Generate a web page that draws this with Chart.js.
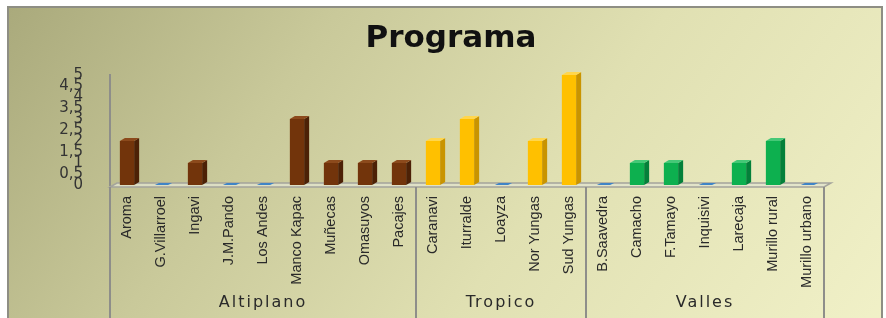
<!DOCTYPE html>
<html>
<head>
<meta charset="utf-8">
<script src="https://cdn.jsdelivr.net/npm/chart.js@4.4.1/dist/chart.umd.min.js"></script>
<style>
  html, body { margin: 0; padding: 0; background: #fff; width: 886px; height: 318px; overflow: hidden; }
  #marco {
    position: absolute; left: 7px; top: 6px; width: 872px; height: 330px;
    border: 2px solid #8e8e84;
    background: linear-gradient(125deg, #aaaa7c 0%, #c9c99a 30%, #e0e0b2 60%, #f1f1c8 100%);
  }
  #grafico { position: absolute; left: 0; top: 0; }
</style>
</head>
<body>
<div id="marco"></div>
<canvas id="grafico" width="886" height="318"></canvas>
<script>
// datos del grafico
const titulo = 'Programa'
const categorias = ['Aroma', 'G.Villarroel', 'Ingavi', 'J.M.Pando', 'Los Andes', 'Manco Kapac', 'Muñecas', 'Omasuyos', 'Pacajes',
  'Caranavi', 'Iturralde', 'Loayza', 'Nor Yungas', 'Sud Yungas',
  'B.Saavedra', 'Camacho', 'F.Tamayo', 'Inquisivi', 'Larecaja', 'Murillo rural', 'Murillo urbano']
const valores = [2, 0, 1, 0, 0, 3, 1, 1, 1,
  2, 3, 0, 2, 5,
  0, 1, 1, 0, 1, 2, 0]
const grupos = ['Altiplano', 'Tropico', 'Valles']
const tamGrupos = [9, 5, 7]
const yTicks = ['0', '0,5', '1', '1,5', '2', '2,5', '3', '3,5', '4', '4,5', '5']

// colores: frente, lado, tapa
const coloresGrupo = [
  ['#72340b', '#4c2106', '#8c4a1c'],
  ['#ffc000', '#c99400', '#ffd64d'],
  ['#0db04f', '#04803a', '#45c877']
]
const colorCero = '#3f84c6'

// grupo de cada barra
const grupoDe = []
tamGrupos.forEach((n, g) => { for (let k = 0; k < n; k++) grupoDe.push(g) })
const coloresBarra = grupoDe.map(g => coloresGrupo[g][0])

const dx = 5, dy = 3

function poligono(ctx, pts, fill) {
  ctx.beginPath()
  ctx.moveTo(pts[0][0], pts[0][1])
  for (let i = 1; i < pts.length; i++) ctx.lineTo(pts[i][0], pts[i][1])
  ctx.closePath()
  ctx.fillStyle = fill
  ctx.fill()
}

// caras 3D, suelo, separadores, nombres de grupo y titulo
const caras3d = {
  id: 'caras3d',
  beforeDatasetsDraw(chart) {
    const ctx = chart.ctx
    const { left, right, bottom } = chart.chartArea
    ctx.save()
    poligono(ctx, [[left, bottom + 2], [left + dx + 2, bottom - 2], [right + dx + 2, bottom - 2], [right, bottom + 2]], 'rgba(225,228,205,0.8)')
    ctx.strokeStyle = '#a4a49c'
    ctx.lineWidth = 1.5
    ctx.stroke()
    ctx.restore()
  },
  afterDatasetsDraw(chart) {
    const ctx = chart.ctx
    const meta = chart.getDatasetMeta(0)
    ctx.save()
    meta.data.forEach((bar, i) => {
      const { x, y, base, width } = bar.getProps(['x', 'y', 'base', 'width'], true)
      const l = x - width / 2, r = x + width / 2
      if (valores[i] === 0) {
        poligono(ctx, [[l + 1, base], [l + dx, base - dy + 1], [r + dx - 1, base - dy + 1], [r, base]], colorCero)
        return
      }
      const c = coloresGrupo[grupoDe[i]]
      poligono(ctx, [[r, y], [r + dx, y - dy], [r + dx, base - dy], [r, base]], c[1])
      poligono(ctx, [[l, y], [l + dx, y - dy], [r + dx, y - dy], [r, y]], c[2])
    })
    ctx.restore()
  },
  afterDraw(chart) {
    const ctx = chart.ctx
    const xs = chart.scales.x
    const { bottom } = chart.chartArea
    const paso = xs.getPixelForValue(1) - xs.getPixelForValue(0)
    ctx.save()
    ctx.strokeStyle = '#8e8e8a'
    ctx.lineWidth = 2
    ctx.fillStyle = '#2a2a2a'
    ctx.font = '16px "DejaVu Sans", sans-serif'
    ctx.letterSpacing = '2px'
    ctx.textAlign = 'center'
    ctx.textBaseline = 'middle'
    let inicio = 0
    tamGrupos.forEach((n, g) => {
      const x0 = xs.getPixelForValue(inicio) - paso / 2
      const x1 = xs.getPixelForValue(inicio + n - 1) + paso / 2
      ctx.beginPath()
      ctx.moveTo(x0, bottom + 2)
      ctx.lineTo(x0, 318)
      ctx.moveTo(x1, bottom + 2)
      ctx.lineTo(x1, 318)
      ctx.stroke()
      ctx.fillText(grupos[g], (x0 + x1) / 2, 303)
      inicio += n
    })
    // titulo
    ctx.letterSpacing = '0px'
    ctx.fillStyle = '#111'
    ctx.font = 'bold 31px "DejaVu Sans", sans-serif'
    ctx.fillText(titulo, 451, 39)
    ctx.restore()
  }
}

new Chart(document.getElementById('grafico'), {
  type: 'bar',
  data: {
    labels: categorias,
    datasets: [{
      label: titulo,
      data: valores,
      backgroundColor: coloresBarra,
      borderWidth: 0,
      categoryPercentage: 1,
      barPercentage: 0.42
    }]
  },
  options: {
    responsive: false,
    animation: false,
    layout: { padding: { left: 0, right: 62, top: 75, bottom: 0 } },
    plugins: {
      legend: { display: false },
      tooltip: { enabled: false },
      title: { display: false }
    },
    scales: {
      x: {
        grid: { display: false, drawTicks: false },
        border: { display: false },
        ticks: {
          color: '#2a2a2a',
          font: { family: '"Liberation Sans", Arial, sans-serif', size: 14.5 },
          minRotation: 90,
          maxRotation: 90,
          autoSkip: false,
          padding: 11
        },
        afterFit(s) { s.height = 133 }
      },
      y: {
        min: 0,
        max: 5,
        grid: { display: false, drawTicks: false },
        border: { display: true, color: '#8e8e8a', width: 2 },
        ticks: {
          stepSize: 0.5,
          autoSkip: false,
          color: '#333',
          padding: 27,
          font: { family: '"DejaVu Sans", sans-serif', size: 15 },
          callback: (v, i) => yTicks[i]
        },
        afterFit(s) { s.width = 110 }
      }
    }
  },
  plugins: [caras3d]
})
</script>
</body>
</html>
